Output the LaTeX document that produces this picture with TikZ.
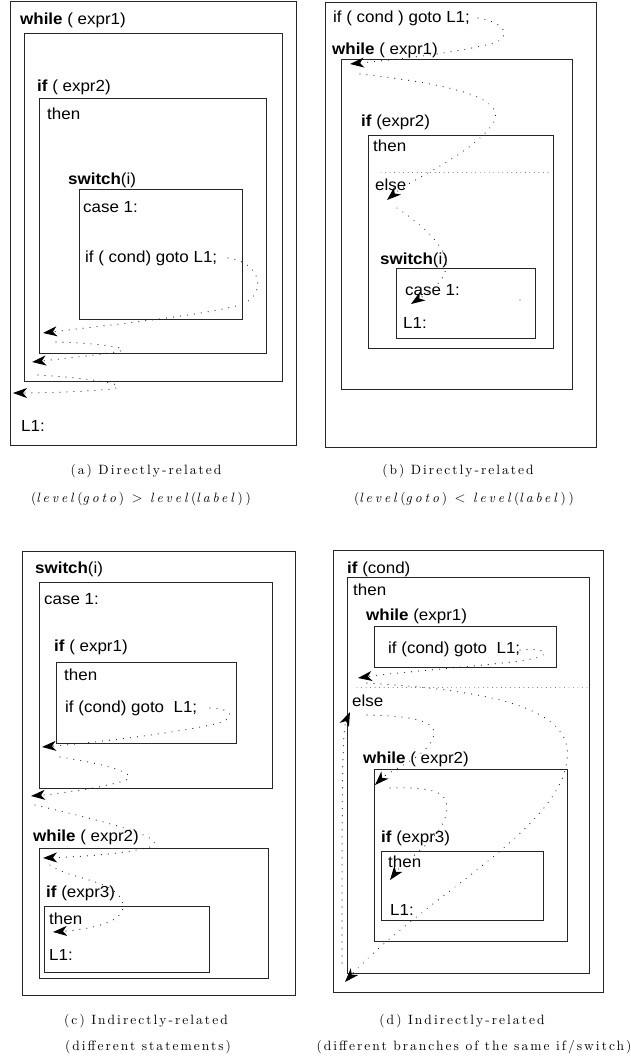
\documentclass[tikz,border=0pt]{standalone}
\usepackage{fontspec}
\newfontfamily\diagfont[FakeStretch=1.06]{Liberation Sans}
\newfontfamily\capfont[LetterSpace=15,Extension=.otf,UprightFont=*-regular,ItalicFont=*-italic,BoldFont=*-bold]{lmroman10}
\newfontfamily\capwidefont[LetterSpace=22,Extension=.otf,UprightFont=*-regular,ItalicFont=*-italic,BoldFont=*-bold]{lmroman10}
\usetikzlibrary{arrows.meta}
\begin{document}
\begin{tikzpicture}[x=1pt,y=-1pt,
  box/.style={draw=black!85, line width=0.9pt},
  lbl/.style={anchor=base west, inner sep=0pt, font=\diagfont\fontsize{16}{18}\selectfont},
  captxt/.style={anchor=base, inner sep=0pt, font=\capfont\fontsize{13.5}{15}\selectfont},
  capwide/.style={anchor=base, inner sep=0pt, font=\capwidefont\fontsize{13.5}{15}\selectfont},
  jump/.style={draw=black!85, line width=1.2pt, dash pattern=on 0.01pt off 7pt, line cap=round, -{Stealth[length=14pt,width=10pt,inset=4pt,color=black]}},
  sepline/.style={draw=black!60, line width=0.9pt, dash pattern=on 0.01pt off 4.5pt, line cap=round}]
\useasboundingbox (0,0) rectangle (631,1059);

% ---------------- panel (a)
\draw[box] (10.5,1) rectangle (296,445);
\draw[box] (24.7,33) rectangle (282,381);
\draw[box] (39,98) rectangle (266,353);
\draw[box] (79,189) rectangle (242,319);
\node[lbl] (aWhile) at (20,25) {\textbf{while} ( expr1)};
\node[lbl] (aIf) at (37,92) {\textbf{if} ( expr2)};
\node[lbl] (aThen) at (47,120) {then};
\node[lbl] (aSw) at (68,185) {\textbf{switch}(i)};
\node[lbl] (aCase) at (83,213) {case 1:};
\node[lbl] (aGoto) at (85,262) {if ( cond) goto L1;};
\node[lbl] (aL1) at (21,431) {L1:};
\coordinate (a1s) at (228,258); \coordinate (a1e) at (43,333);
\coordinate (a2s) at (56,342);  \coordinate (a2e) at (32,362);
\coordinate (a3s) at (38,375);  \coordinate (a3e) at (13,393);
\draw[jump] (a1s) .. controls (262,262) and (268,296) .. (240,305) .. controls (200,316) and (100,326) .. (a1e);
\draw[jump] (a2s) .. controls (100,343) and (140,349) .. (115,352) .. controls (90,356) and (60,359) .. (a2e);
\draw[jump] (a3s) .. controls (90,378) and (135,385) .. (112,389) .. controls (80,392) and (40,393) .. (a3e);

% ---------------- panel (b)
\draw[box] (325,2) rectangle (596,447);
\draw[box] (341,59) rectangle (572,389);
\draw[box] (368,135) rectangle (553,348);
\draw[box] (396,268) rectangle (535,338);
\coordinate (bSepL) at (381,172); \coordinate (bSepR) at (552,172);
\draw[sepline] (bSepL) -- (bSepR);
\node[lbl] (bGoto) at (333,23) {if ( cond ) goto L1;};
\node[lbl] (bWhile) at (332,55) {\textbf{while} ( expr1)};
\node[lbl] (bIf) at (361,127) {\textbf{if} (expr2)};
\node[lbl] (bThen) at (373,152) {then};
\node[lbl] (bElse) at (375,191) {else};
\node[lbl] (bSw) at (380,265) {\textbf{switch}(i)};
\node[lbl] (bCase) at (405,295) {case 1:};
\node[lbl] (bL1) at (403,328) {L1:};
\fill[black!70] (520,300) circle (0.7pt);
\coordinate (b1s) at (478,18);  \coordinate (b1e) at (350,64);
\coordinate (b2s) at (360,74);  \coordinate (b2e) at (387,200);
\coordinate (b3s) at (397,208); \coordinate (b3e) at (411,304);
\draw[jump] (b1s) .. controls (505,22) and (515,38) .. (490,44) .. controls (450,54) and (390,60) .. (b1e);
\draw[jump] (b2s) .. controls (460,85) and (510,100) .. (492,125) .. controls (470,155) and (410,180) .. (b2e);
\draw[jump] (b3s) .. controls (430,230) and (455,255) .. (443,277) .. controls (435,290) and (420,298) .. (b3e);

% ---------------- captions (a),(b)
\node[captxt] (capA1) at (146,474) {(a) Directly-related};
\node[capwide] (capA2) at (141,502) {(\textit{level}(\textit{goto})~$>$~\textit{level}(\textit{label}))};
\node[captxt] (capB1) at (458,474) {(b) Directly-related};
\node[capwide] (capB2) at (464,502) {(\textit{level}(\textit{goto})~$<$~\textit{level}(\textit{label}))};

% ---------------- panel (c)
\draw[box] (22,551) rectangle (295,995);
\draw[box] (39,582) rectangle (272,788);
\draw[box] (56,662) rectangle (236,743);
\draw[box] (39,848) rectangle (268,978);
\draw[box] (44,906) rectangle (209,972);
\node[lbl] (cSw) at (35,573) {\textbf{switch}(i)};
\node[lbl] (cCase) at (44,604) {case 1:};
\node[lbl] (cIf) at (54,651) {\textbf{if} ( expr1)};
\node[lbl] (cThen) at (64,680) {then};
\node[lbl] (cGoto) at (65,712) {if (cond) goto~~L1;};
\node[lbl] (cWhile) at (33,841) {\textbf{while} ( expr2)};
\node[lbl] (cIf3) at (46,897) {\textbf{if} (expr3)};
\node[lbl] (cThen3) at (49,924) {then};
\node[lbl] (cL1) at (49,960) {L1:};
\coordinate (c1s) at (210,708); \coordinate (c1e) at (42,747);
\coordinate (c2s) at (60,757);  \coordinate (c2e) at (31,796);
\coordinate (c3s) at (35,805);  \coordinate (c3e) at (43,858);
\coordinate (c4s) at (50,865);  \coordinate (c4e) at (53,932);
\draw[jump] (c1s) .. controls (230,708) and (240,718) .. (215,724) .. controls (170,734) and (90,743) .. (c1e);
\draw[jump] (c2s) .. controls (100,763) and (150,775) .. (120,782) .. controls (90,790) and (55,794) .. (c2e);
\draw[jump] (c3s) .. controls (90,818) and (175,838) .. (150,847) .. controls (120,855) and (70,857) .. (c3e);
\draw[jump] (c4s) .. controls (70,880) and (120,880) .. (123,905) .. controls (125,925) and (80,930) .. (c4e);

% ---------------- panel (d)
\draw[box] (333,550) rectangle (603,992);
\draw[box] (347,577) rectangle (589,973);
\draw[box] (374,626) rectangle (556,667);
\draw[box] (374,769) rectangle (567,941);
\draw[box] (381,851) rectangle (543,920);
\coordinate (dSepL) at (357,687); \coordinate (dSepR) at (589,687);
\draw[sepline] (dSepL) -- (dSepR);
\node[lbl] (dIf) at (347,573) {\textbf{if} (cond)};
\node[lbl] (dThen) at (353,595) {then};
\node[lbl] (dWhile1) at (366,620) {\textbf{while} (expr1)};
\node[lbl] (dGoto) at (388,653) {if (cond) goto~~L1;};
\node[lbl] (dElse) at (352,706) {else};
\node[lbl] (dWhile2) at (363,763) {\textbf{while} ( expr2)};
\node[lbl] (dIf3) at (381,842) {\textbf{if} (expr3)};
\node[lbl] (dThen3) at (388,867) {then};
\node[lbl] (dL1) at (390,915) {L1:};
\coordinate (d1s) at (520,650); \coordinate (d1e) at (358,678);
\coordinate (d2s) at (367,683); \coordinate (d2e) at (345,982);
\coordinate (d3s) at (342,963); \coordinate (d3e) at (350,712);
\coordinate (d4s) at (367,715); \coordinate (d4e) at (375,785);
\coordinate (d5s) at (390,788); \coordinate (d5e) at (390,880);
\draw[jump] (d1s) .. controls (545,647) and (560,655) .. (520,661) .. controls (470,667) and (400,672) .. (d1e);
\draw[jump] (d2s) .. controls (480,690) and (575,705) .. (567,760) .. controls (560,830) and (420,900) .. (d2e);
\draw[jump] (d3s) .. controls (342,800) and (342,730) .. (d3e);
\draw[jump] (d4s) .. controls (410,716) and (440,720) .. (433,738) .. controls (425,758) and (390,770) .. (d4e);
\draw[jump] (d5s) .. controls (430,787) and (452,790) .. (446,815) .. controls (440,840) and (405,860) .. (d5e);

% ---------------- captions (c),(d)
\node[captxt] (capC1) at (146,1024) {(c) Indirectly-related};
\node[captxt] (capC2) at (148,1050) {(different statements)};
\node[captxt] (capD1) at (462,1024) {(d) Indirectly-related};
\node[captxt] (capD2) at (474,1050) {(different branches of the same if/switch)};
\end{tikzpicture}
\end{document}
